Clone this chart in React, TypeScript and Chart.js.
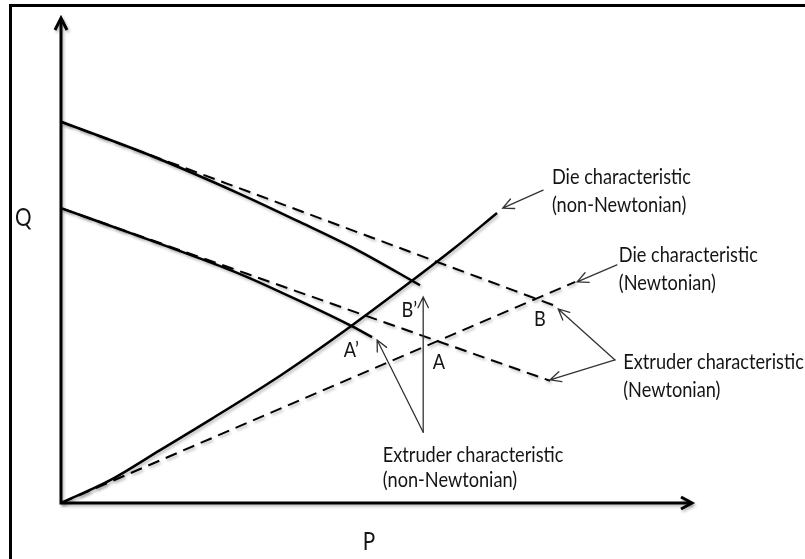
import React, { useEffect, useRef } from "react";
import { Chart, registerables } from "chart.js";

Chart.register(...registerables);

// Extruder characteristics (Newtonian, dashed straight lines)
const extruderNewtUpperP = [0, 78.0];
const extruderNewtUpperQ = [78.6, 40.8];
const extruderNewtLowerP = [0, 77.5];
const extruderNewtLowerQ = [60.8, 25.2];
// Extruder characteristics (non-Newtonian, solid curves)
const extruderNonNewtUpperP = [0, 14.1, 28.4, 37.9, 46.9, 56.9];
const extruderNonNewtUpperQ = [78.6, 71.7, 63.7, 57.9, 52.2, 44.9];
const extruderNonNewtLowerP = [0, 14.1, 28.4, 37.9, 46.0, 49.3];
const extruderNonNewtLowerQ = [60.8, 54.2, 47.2, 41.6, 36.5, 34.2];
// Die characteristics
const dieNewtP = [0, 81.5];
const dieNewtQ = [0, 45.6];
const dieNonNewtP = [0, 7.8, 15.7, 23.8, 34.9, 46.0, 55.6, 62.0, 69.1];
const dieNonNewtQ = [0, 4.7, 10.9, 17.3, 26.4, 36.5, 45.8, 52.2, 59.8];

// Operating point labels
const pointLabels = ["A\u2019", "B\u2019", "A", "B"];
const pointLabelP = [46.0, 55.2, 59.9, 75.9];
const pointLabelQ = [31.5, 39.8, 29.1, 37.9];

// Annotation text (left aligned)
const noteLines = [
  "Die characteristic",
  "(non-Newtonian)",
  "Die characteristic",
  "(Newtonian)",
  "Extruder characteristic",
  "(Newtonian)",
  "Extruder characteristic",
  "(non-Newtonian)",
];
const noteP = [77.8, 77.8, 88.4, 88.4, 89.1, 89.1, 51.0, 51.0];
const noteQ = [67.2, 61.4, 51.1, 45.4, 29.1, 23.3, 9.9, 4.7];

// Annotation arrows (from -> tip)
const arrowFromP = [76.4, 88.1, 87.8, 87.8, 57.4, 57.4];
const arrowFromQ = [64.5, 49.1, 29.5, 29.5, 14.6, 14.6];
const arrowToP = [70.0, 81.8, 78.8, 77.5, 50.1, 57.4];
const arrowToQ = [60.8, 45.6, 40.0, 25.4, 33.6, 42.5];

const axisLabelX = "P";
const axisLabelY = "Q";
const axisLabelXPos = [48.8, -8.0];
const axisLabelYPos = [-6.0, 58.8];

export default function App() {
  const ref = useRef<HTMLCanvasElement>(null);

  useEffect(() => {
    const canvas = ref.current!;
    const mk = (P: number[], Q: number[], dashed: boolean, width: number) => ({
      data: P.map((p, i) => ({ x: p, y: Q[i] })),
      borderColor: "#000",
      borderWidth: width,
      borderDash: dashed ? [12, 7] : [],
      pointRadius: 0,
      fill: false,
      tension: 0.4,
      cubicInterpolationMode: "monotone" as const,
      clip: false as any,
    });

    const overlay = {
      id: "overlay",
      beforeDraw(chart: any) {
        const ctx = chart.ctx as CanvasRenderingContext2D;
        ctx.save();
        ctx.fillStyle = "#fff";
        ctx.fillRect(0, 0, chart.width, chart.height);
        ctx.strokeStyle = "#000";
        ctx.lineWidth = 3;
        ctx.beginPath();
        ctx.moveTo(10.5, chart.height);
        ctx.lineTo(10.5, 5.5);
        ctx.lineTo(chart.width, 5.5);
        ctx.stroke();
        ctx.restore();
      },
      beforeDatasetsDraw(chart: any) {
        const ctx = chart.ctx as CanvasRenderingContext2D;
        ctx.save();
        ctx.shadowColor = "rgba(0,0,0,0.28)";
        ctx.shadowBlur = 3;
        ctx.shadowOffsetX = 1.5;
        ctx.shadowOffsetY = 2;
      },
      afterDatasetsDraw(chart: any) {
        const ctx = chart.ctx as CanvasRenderingContext2D;
        ctx.restore();
        const xs = chart.scales.x;
        const ys = chart.scales.y;
        const area = chart.chartArea;
        const X = (v: number) => xs.getPixelForValue(v);
        const Y = (v: number) => ys.getPixelForValue(v);
        const ox = X(0);
        const oy = Y(0);

        // axes with arrowheads
        ctx.save();
        ctx.shadowColor = "rgba(0,0,0,0.28)";
        ctx.shadowBlur = 3;
        ctx.shadowOffsetX = 1.5;
        ctx.shadowOffsetY = 2;
        ctx.strokeStyle = "#000";
        ctx.lineWidth = 3;
        ctx.lineCap = "butt";
        ctx.beginPath();
        ctx.moveTo(ox, oy);
        ctx.lineTo(ox, area.top + 1);
        ctx.moveTo(ox - 1.5, oy);
        ctx.lineTo(area.right - 1, oy);
        ctx.stroke();
        ctx.lineJoin = "miter";
        ctx.beginPath();
        ctx.moveTo(ox - 6, area.top + 12);
        ctx.lineTo(ox, area.top);
        ctx.lineTo(ox + 6, area.top + 12);
        ctx.moveTo(area.right - 11, oy - 6);
        ctx.lineTo(area.right, oy);
        ctx.lineTo(area.right - 11, oy + 6);
        ctx.stroke();
        ctx.restore();

        // annotation arrows
        ctx.save();
        ctx.strokeStyle = "#333";
        ctx.lineWidth = 1.3;
        ctx.lineCap = "round";
        for (let i = 0; i < arrowFromP.length; i++) {
          const x1 = X(arrowFromP[i]);
          const y1 = Y(arrowFromQ[i]);
          const x2 = X(arrowToP[i]);
          const y2 = Y(arrowToQ[i]);
          const a = Math.atan2(y2 - y1, x2 - x1);
          const L = 12;
          const h = 0.45;
          ctx.beginPath();
          ctx.moveTo(x1, y1);
          ctx.lineTo(x2, y2);
          ctx.moveTo(x2 - L * Math.cos(a - h), y2 - L * Math.sin(a - h));
          ctx.lineTo(x2, y2);
          ctx.lineTo(x2 - L * Math.cos(a + h), y2 - L * Math.sin(a + h));
          ctx.stroke();
        }
        ctx.restore();

        // texts
        ctx.save();
        ctx.fillStyle = "#141414";
        ctx.font = "22px Lato, 'Open Sans', sans-serif";
        ctx.textBaseline = "middle";
        const refW = ctx.measureText("Die characteristic").width;
        const sx = 139 / refW;
        const drawScaled = (t: string, x: number, y: number, align: "left" | "center") => {
          ctx.save();
          ctx.translate(x, y);
          ctx.scale(sx, 1);
          ctx.textAlign = align;
          ctx.fillText(t, 0, 0);
          ctx.restore();
        };
        for (let i = 0; i < noteLines.length; i++) {
          drawScaled(noteLines[i], X(noteP[i]), Y(noteQ[i]), "left");
        }
        for (let i = 0; i < pointLabels.length; i++) {
          drawScaled(pointLabels[i], X(pointLabelP[i]), Y(pointLabelQ[i]), "center");
        }
        ctx.font = "25px Lato, 'Open Sans', sans-serif";
        drawScaled(axisLabelX, X(axisLabelXPos[0]), Y(axisLabelXPos[1]), "center");
        drawScaled(axisLabelY, X(axisLabelYPos[0]), Y(axisLabelYPos[1]), "center");
        ctx.restore();
      },
    };

    const chart = new Chart(canvas, {
      type: "line",
      data: {
        datasets: [
          mk(extruderNewtUpperP, extruderNewtUpperQ, true, 2),
          mk(extruderNewtLowerP, extruderNewtLowerQ, true, 2),
          mk(dieNewtP, dieNewtQ, true, 2),
          mk(extruderNonNewtUpperP, extruderNonNewtUpperQ, false, 2.5),
          mk(extruderNonNewtLowerP, extruderNonNewtLowerQ, false, 2.5),
          mk(dieNonNewtP, dieNonNewtQ, false, 2.5),
        ] as any,
      },
      options: {
        animation: false,
        responsive: false,
        devicePixelRatio: 1,
        layout: { padding: { left: 61, right: 113, top: 18, bottom: 56 } },
        plugins: { legend: { display: false }, tooltip: { enabled: false }, title: { display: false } },
        scales: {
          x: { type: "linear", min: 0, max: 100, display: false },
          y: { type: "linear", min: 0, max: 100, display: false },
        },
        events: [],
      },
      plugins: [overlay as any],
    });
    return () => chart.destroy();
  }, []);

  return (
    <canvas
      ref={ref}
      width={805}
      height={559}
      style={{ position: "fixed", left: 0, top: 0, width: 805, height: 559, display: "block" }}
    />
  );
}
